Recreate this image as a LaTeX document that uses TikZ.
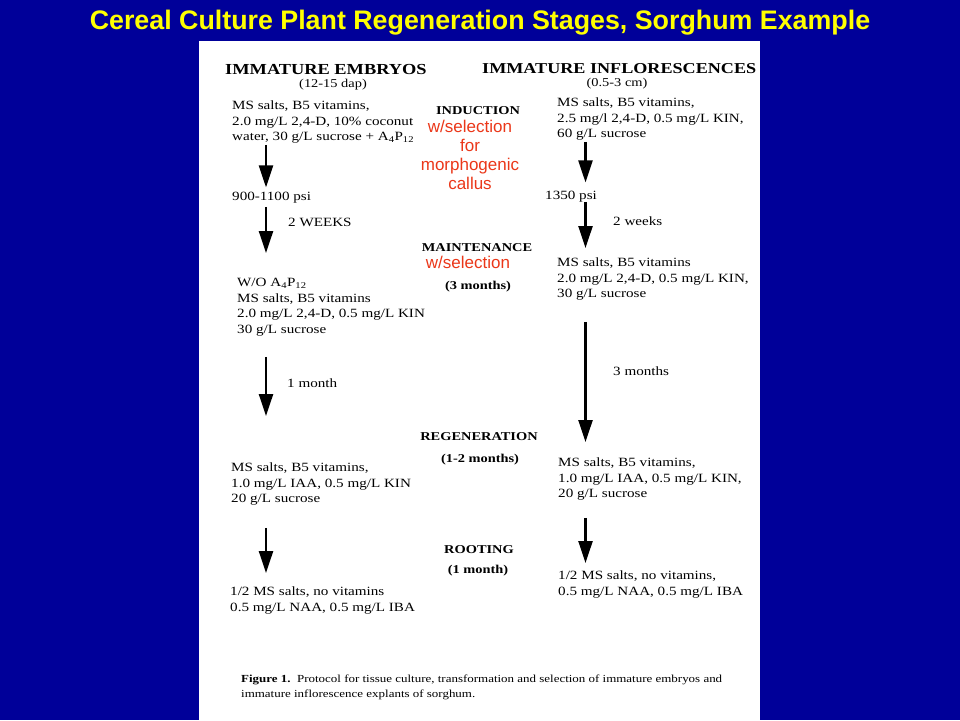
\documentclass[tikz,border=0pt]{standalone}
\usepackage{fontspec}
\setmainfont{Liberation Serif}[FakeStretch=1.2]
\newfontfamily\notefont{Liberation Sans}
\usetikzlibrary{arrows.meta}

\definecolor{slideblue}{RGB}{0,0,153}
\definecolor{titleyellow}{RGB}{255,255,0}
\definecolor{notered}{RGB}{235,55,25}

\tikzset{
  recipe/.style={inner sep=0pt, align=left, anchor=north west,
    font=\fontsize{12.6}{15.5}\selectfont},
  steplabel/.style={inner sep=0pt, anchor=base west,
    font=\fontsize{12.6}{15.5}\selectfont},
  colhead/.style={inner sep=0pt, anchor=base west,
    font=\fontsize{15.3}{18}\selectfont\bfseries},
  colsub/.style={inner sep=0pt, anchor=base,
    font=\fontsize{12}{14}\selectfont},
  stage/.style={inner sep=0pt, anchor=base,
    font=\fontsize{12}{14}\selectfont\bfseries},
  selnote/.style={inner sep=0pt, text=notered, align=center,
    font=\notefont\fontsize{17}{19}\selectfont},
  stagearrow/.style={-{Triangle[width=14pt,length=22pt]}, line width=2.4pt}
}

\begin{document}
\begin{tikzpicture}[x=1pt, y=-1pt]
        % Slide background and scanned page
        \useasboundingbox (0,0) rectangle (960,720);
        \fill[slideblue] (0,0) rectangle (960,720);
        \fill[white] (199,41) rectangle (760,720);

        % Title
        \node[inner sep=0pt, anchor=base, text=titleyellow,
          font=\notefont\fontsize{26.8}{30}\selectfont\bfseries] (title) at (480,29)
          {Cereal Culture Plant Regeneration Stages, Sorghum Example};

        % Column heads
        \node[colhead] (embHead) at (225,74) {IMMATURE EMBRYOS};
        \node[colsub] (embSub) at (333,87) {(12-15 dap)};
        \node[colhead, font=\fontsize{15.1}{18}\selectfont\bfseries]
          (infHead) at (482,73) {IMMATURE INFLORESCENCES};
        \node[colsub] (infSub) at (617,86) {(0.5-3 cm)};

        % Stages in the middle
        \node[stage] (induct) at (478,114) {INDUCTION};
        \node[selnote, anchor=north] (inductSel) at (470,120)
          {w/selection\\for\\morphogenic\\callus};
        \node[stage] (maint) at (477,251) {MAINTENANCE};
        \node[selnote, anchor=base] (maintSel) at (468,268) {w/selection};
        \node[stage] (maintTime) at (478,289) {(3 months)};
        \node[stage] (regen) at (479,440) {REGENERATION};
        \node[stage] (regenTime) at (480,462) {(1-2 months)};
        \node[stage] (root) at (479,553) {ROOTING};
        \node[stage] (rootTime) at (478,573) {(1 month)};

        % Embryo column
        \node[recipe] (embInd) at (232,101)
          {MS salts, B5 vitamins,\\2.0 mg/L 2,4-D, 10\% coconut\\
           water, 30 g/L sucrose + A\textsubscript{4}P\textsubscript{12}};
        \node[steplabel] (embPsi) at (232,200) {900-1100 psi};
        \node[steplabel] (embWeeks) at (288,226) {2 WEEKS};
        \node[recipe] (embMaint) at (237,278)
          {W/O A\textsubscript{4}P\textsubscript{12}\\MS salts, B5 vitamins\\
           2.0 mg/L 2,4-D, 0.5 mg/L KIN\\30 g/L sucrose};
        \node[steplabel] (embMonth) at (287,387) {1 month};
        \node[recipe] (embRegen) at (231,463)
          {MS salts, B5 vitamins,\\1.0 mg/L IAA, 0.5 mg/L KIN\\20 g/L sucrose};
        \node[recipe] (embRoot) at (230,587)
          {1/2 MS salts, no vitamins\\0.5 mg/L NAA, 0.5 mg/L IBA};

        % Inflorescence column
        \node[recipe] (infInd) at (557,98)
          {MS salts, B5 vitamins,\\2.5 mg/l 2,4-D, 0.5 mg/L KIN,\\60 g/L sucrose};
        \node[steplabel] (infPsi) at (545,199) {1350 psi};
        \node[steplabel] (infWeeks) at (613,225) {2 weeks};
        \node[recipe] (infMaint) at (557,258)
          {MS salts, B5 vitamins\\2.0 mg/L 2,4-D, 0.5 mg/L KIN,\\30 g/L sucrose};
        \node[steplabel] (infMonths) at (613,375) {3 months};
        \node[recipe] (infRegen) at (558,458)
          {MS salts, B5 vitamins,\\1.0 mg/L IAA, 0.5 mg/L KIN,\\20 g/L sucrose};
        \node[recipe] (infRoot) at (558,571)
          {1/2 MS salts, no vitamins,\\0.5 mg/L NAA, 0.5 mg/L IBA};

        % Arrows down each column
        \coordinate (embAxis) at (266,0);
        \coordinate (infAxis) at (585.5,0);
        \draw[stagearrow, shorten <=1pt, shorten >=4pt]
          (embInd.south -| embAxis) -- (embPsi.north -| embAxis);
        \draw[stagearrow, shorten <=4pt, shorten >=25pt]
          (embPsi.south -| embAxis) -- (embMaint.north -| embAxis);
        \draw[stagearrow, shorten <=21pt, shorten >=47pt]
          (embMaint.south -| embAxis) -- (embRegen.north -| embAxis);
        \draw[stagearrow, shorten <=22pt, shorten >=14pt]
          (embRegen.south -| embAxis) -- (embRoot.north -| embAxis);
        \draw[stagearrow, shorten <=1pt, shorten >=8pt]
          (infInd.south -| infAxis) -- (infPsi.north -| infAxis);
        \draw[stagearrow, shorten >=10pt]
          (infPsi.south -| infAxis) -- (infMaint.north -| infAxis);
        \draw[stagearrow, shorten <=21pt, shorten >=16pt]
          (infMaint.south -| infAxis) -- (infRegen.north -| infAxis);
        \draw[stagearrow, shorten <=17pt, shorten >=8pt]
          (infRegen.south -| infAxis) -- (infRoot.north -| infAxis);

        % Figure caption
        \node[recipe, font=\fontsize{10.8}{15}\selectfont] (figCap) at (241,674.5)
          {\textbf{Figure 1.}\ \ Protocol for tissue culture, transformation and selection of immature embryos and\\
           immature inflorescence explants of sorghum.};

      \end{tikzpicture}
\end{document}
